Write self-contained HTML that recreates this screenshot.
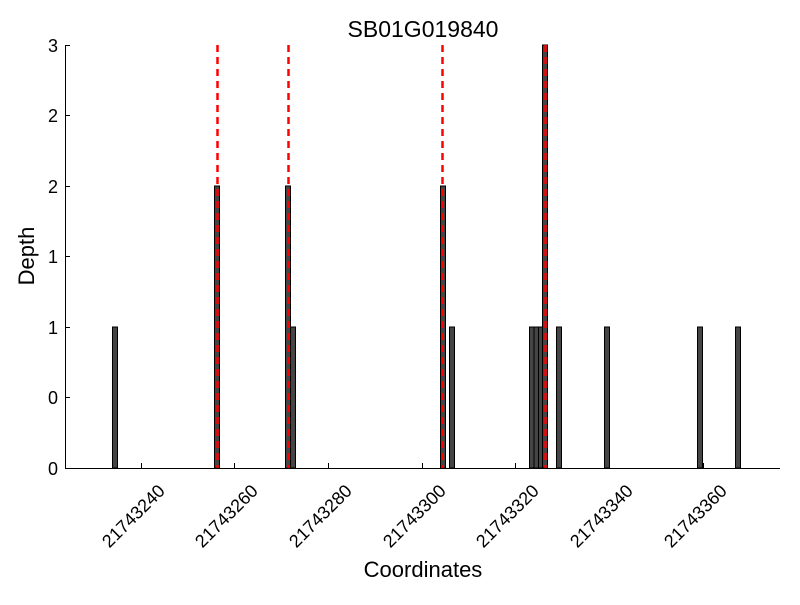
<!DOCTYPE html>
<html><head><style>body{margin:0;background:#fff}</style></head><body>
<svg width="800" height="600" xmlns="http://www.w3.org/2000/svg" font-family="Liberation Sans, sans-serif">
<rect width="800" height="600" fill="#fff"/>
<g fill="#454545" stroke="#000" stroke-width="1">
<rect x="112.5" y="327" width="5" height="141"/>
<rect x="214.5" y="186" width="5" height="282"/>
<rect x="285.5" y="186" width="5" height="282"/>
<rect x="290.5" y="327" width="5" height="141"/>
<rect x="440.5" y="186" width="5" height="282"/>
<rect x="449.5" y="327" width="5" height="141"/>
<rect x="529.5" y="327" width="4.5" height="141"/>
<rect x="534" y="327" width="4.5" height="141"/>
<rect x="538.5" y="327" width="4" height="141"/>
<rect x="542.5" y="45" width="5" height="423"/>
<rect x="556.5" y="327" width="5" height="141"/>
<rect x="604.5" y="327" width="5" height="141"/>
<rect x="697.5" y="327" width="5" height="141"/>
<rect x="735.5" y="327" width="5" height="141"/>
</g>
<g stroke="#f00" stroke-width="2.5" stroke-dasharray="7,5">
<line x1="217.5" y1="45" x2="217.5" y2="468"/>
<line x1="288.5" y1="45" x2="288.5" y2="468"/>
<line x1="442.5" y1="45" x2="442.5" y2="468"/>
<line x1="545.5" y1="45" x2="545.5" y2="468"/>
</g>
<g stroke="#000" stroke-width="1">
<line x1="65.5" y1="45" x2="65.5" y2="468.5"/>
<line x1="65" y1="468.5" x2="780" y2="468.5"/>
<line x1="65.5" y1="45.5" x2="70" y2="45.5"/>
<line x1="65.5" y1="115.5" x2="70" y2="115.5"/>
<line x1="65.5" y1="186.5" x2="70" y2="186.5"/>
<line x1="65.5" y1="256.5" x2="70" y2="256.5"/>
<line x1="65.5" y1="327.5" x2="70" y2="327.5"/>
<line x1="65.5" y1="397.5" x2="70" y2="397.5"/>
<line x1="141.5" y1="468" x2="141.5" y2="463"/>
<line x1="234.5" y1="468" x2="234.5" y2="463"/>
<line x1="328.5" y1="468" x2="328.5" y2="463"/>
<line x1="422.5" y1="468" x2="422.5" y2="463"/>
<line x1="515.5" y1="468" x2="515.5" y2="463"/>
<line x1="609.5" y1="468" x2="609.5" y2="463"/>
<line x1="703.5" y1="468" x2="703.5" y2="463"/>
</g>
<g font-size="18" text-anchor="end" fill="#000">
<text x="58" y="52">3</text>
<text x="58" y="122">2</text>
<text x="58" y="193">2</text>
<text x="58" y="263">1</text>
<text x="58" y="334">1</text>
<text x="58" y="404">0</text>
<text x="58" y="475">0</text>
</g>
<g font-size="18" text-anchor="end" fill="#000">
<text transform="translate(166,492) rotate(-45)">21743240</text>
<text transform="translate(259,492) rotate(-45)">21743260</text>
<text transform="translate(353,492) rotate(-45)">21743280</text>
<text transform="translate(447,492) rotate(-45)">21743300</text>
<text transform="translate(540,492) rotate(-45)">21743320</text>
<text transform="translate(634,492) rotate(-45)">21743340</text>
<text transform="translate(728,492) rotate(-45)">21743360</text>
</g>
<text x="423" y="577" font-size="22" text-anchor="middle">Coordinates</text>
<text transform="translate(34,256) rotate(-90)" font-size="22" text-anchor="middle">Depth</text>
<text x="423" y="37" font-size="23" text-anchor="middle">SB01G019840</text>
</svg>
</body></html>
